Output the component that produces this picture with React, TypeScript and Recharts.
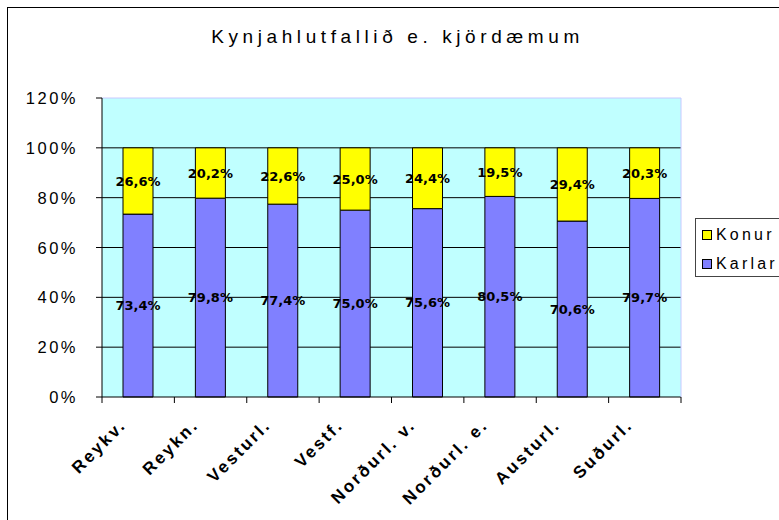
import React from 'react';
import { BarChart, Bar, XAxis, YAxis, CartesianGrid, LabelList, Legend, ReferenceLine } from 'recharts';

const categories = ['Reykv.', 'Reykn.', 'Vesturl.', 'Vestf.', 'Norðurl. v.', 'Norðurl. e.', 'Austurl.', 'Suðurl.'];
const karlar = [73.4, 79.8, 77.4, 75.0, 75.6, 80.5, 70.6, 79.7];
const konur = [26.6, 20.2, 22.6, 25.0, 24.4, 19.5, 29.4, 20.3];
const yTicks = [0, 20, 40, 60, 80, 100, 120];
const seriesNames = { karlar: 'Karlar', konur: 'Konur' };
const title = 'Kynjahlutfallið e. kjördæmum';

const data = categories.map((c, i) => ({ name: c, karlar: karlar[i], konur: konur[i] }));

const fmt = (v: any) => Number(v).toFixed(1).replace('.', ',') + '%';

const XTick = (props: any) => {
  const { x, y, payload, index, visibleTicksCount } = props;
  const half = payload && payload.offset ? payload.offset : 36;
  const lx = x - 11;
  const ly = y + 29;
  const last = index === (visibleTicksCount ?? categories.length) - 1;
  return (
    <g>
      <line x1={x - half} y1={y} x2={x - half} y2={y + 6} stroke="#000" />
      {last && <line x1={x + half} y1={y} x2={x + half} y2={y + 6} stroke="#000" />}
      <text
        x={lx}
        y={ly}
        textAnchor="end"
        transform={`rotate(-45, ${lx}, ${ly})`}
        fontFamily="'Liberation Sans', Arial, sans-serif"
        fontWeight="bold"
        fontSize={17}
        letterSpacing={2.5}
        fill="#000"
      >
        {payload.value}
      </text>
    </g>
  );
};

const YTick = (props: any) => {
  const { x, y, payload } = props;
  return (
    <text
      x={x}
      y={y}
      textAnchor="end"
      dominantBaseline="central"
      fontFamily="'Liberation Sans', Arial, sans-serif"
      fontSize={16.5}
      letterSpacing={2.5}
      fill="#000"
    >
      {payload.value + '%'}
    </text>
  );
};

const LegendContent = (props: any) => {
  const items = [...(props.payload || [])].reverse();
  return (
    <div
      style={{
        border: '1px solid #444',
        background: '#fff',
        width: 110,
        height: 59,
        boxSizing: 'border-box',
        paddingTop: 1,
        paddingLeft: 6,
      }}
    >
      {items.map((it: any) => (
        <div key={it.value} style={{ display: 'flex', alignItems: 'center', height: 29 }}>
          <span
            style={{
              display: 'inline-block',
              width: 8,
              height: 8,
              background: it.color,
              border: '1px solid #000',
              marginRight: 4,
            }}
          />
          <span
            style={{
              fontFamily: "'Liberation Sans', Arial, sans-serif",
              fontSize: 16,
              letterSpacing: 3.2,
              color: '#000',
              lineHeight: '16px',
            }}
          >
            {it.value}
          </span>
        </div>
      ))}
    </div>
  );
};

export default function App() {
  return (
    <div style={{ position: 'absolute', left: 0, top: 0, width: 779, height: 520, overflow: 'hidden', background: '#fff' }}>
      <div
        style={{
          position: 'absolute',
          left: 7,
          top: 7,
          width: 800,
          height: 600,
          border: '1px solid #000',
        }}
      />
      <div style={{ position: 'absolute', left: 0, top: 0 }}>
        <BarChart
          width={779}
          height={520}
          data={data}
          margin={{ top: 98, right: 97, bottom: 0, left: 0 }}
          barSize={30}
        >
          <CartesianGrid
            fill="#C0FFFF"
            stroke="#000"
            vertical={false}
            horizontalValues={[20, 40, 60, 80, 100]}
          />
          <ReferenceLine y={120} stroke="#C8C8FF" />
          <XAxis
            dataKey="name"
            height={123}
            tickLine={false}
            tickSize={0}
            tickMargin={0}
            axisLine={{ stroke: '#000' }}
            tick={<XTick />}
            interval={0}
          />
          <YAxis
            width={102}
            domain={[0, 120]}
            ticks={yTicks}
            interval={0}
            tickSize={6}
            tickMargin={18}
            axisLine={{ stroke: '#000' }}
            tickLine={{ stroke: '#000' }}
            tick={<YTick />}
          />
          <YAxis
            yAxisId="r"
            orientation="right"
            width={1}
            tick={false}
            tickLine={false}
            axisLine={{ stroke: '#C8C8FF' }}
            domain={[0, 120]}
          />
          <Legend
            layout="vertical"
            align="center"
            verticalAlign="middle"
            content={<LegendContent />}
            wrapperStyle={{ position: 'absolute', left: 695, top: 218, width: 110, height: 59 }}
          />
          <Bar dataKey="karlar" name={seriesNames.karlar} stackId="a" fill="#8080FF" stroke="#000" strokeWidth={1} isAnimationActive={false}>
            <LabelList
              dataKey="karlar"
              position="center"
              formatter={fmt}
              fill="#000"
              fontFamily="'DejaVu Sans', Verdana, sans-serif"
              fontWeight="bold"
              fontSize={13}
            />
          </Bar>
          <Bar dataKey="konur" name={seriesNames.konur} stackId="a" fill="#FFFF00" stroke="#000" strokeWidth={1} isAnimationActive={false}>
            <LabelList
              dataKey="konur"
              position="center"
              formatter={fmt}
              fill="#000"
              fontFamily="'DejaVu Sans', Verdana, sans-serif"
              fontWeight="bold"
              fontSize={13}
            />
          </Bar>
        </BarChart>
      </div>
      <svg width={779} height={520} style={{ position: 'absolute', left: 0, top: 0, pointerEvents: 'none' }}>
        <text
          x={397.5}
          y={43}
          textAnchor="middle"
          fontFamily="'Liberation Sans', Arial, sans-serif"
          fontSize={19}
          letterSpacing={4.6}
          fill="#000"
        >
          {title}
        </text>
      </svg>
    </div>
  );
}
